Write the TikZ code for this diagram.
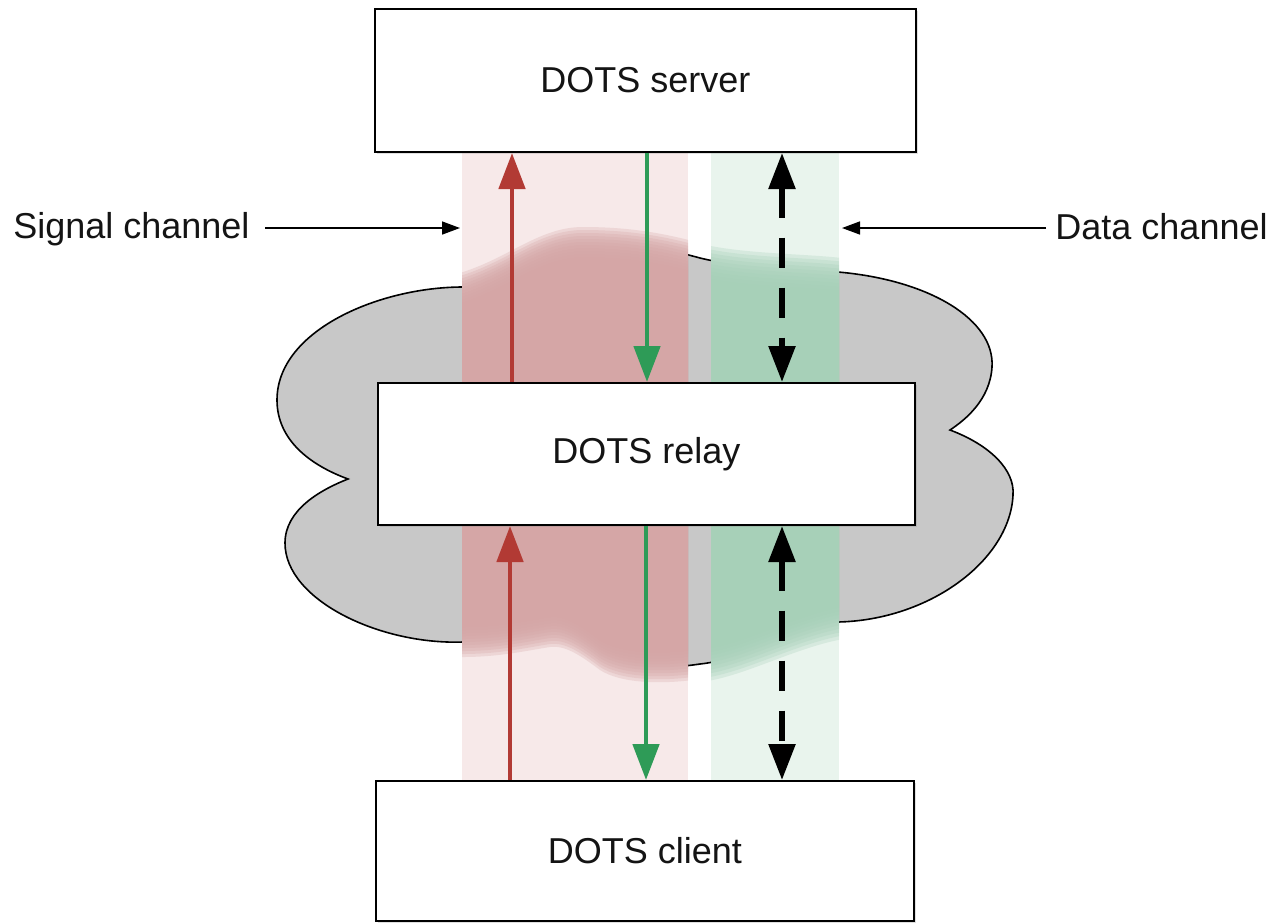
\documentclass[tikz,border=0pt]{standalone}
\usepackage{fontspec}
\setmainfont{Liberation Sans}
\usetikzlibrary{arrows.meta,shadows}
\definecolor{cloudgray}{RGB}{200,200,200}
\definecolor{bandredlight}{RGB}{247,233,233}
\definecolor{bandreddark}{RGB}{213,166,166}
\definecolor{bandgreenlight}{RGB}{233,244,237}
\definecolor{bandgreendark}{RGB}{166,208,184}
\definecolor{arrred}{RGB}{178,58,52}
\definecolor{arrgreen}{RGB}{46,155,87}
\definecolor{txt}{RGB}{20,20,20}
\newcommand\cloudpth{(463,287)
  .. controls (510,272) and (540,242) .. (583,242)
  .. controls (625,242) and (660,247) .. (700,258)
  .. controls (740,268) and (800,268) .. (838,272)
  .. controls (930,280) and (995,320) .. (992,367)
  .. controls (990,400) and (965,420) .. (950,430)
  .. controls (990,445) and (1015,470) .. (1013,495)
  .. controls (1010,560) and (930,620) .. (838,622)
  .. controls (790,632) and (740,660) .. (700,664)
  .. controls (660,670) and (620,668) .. (600,655)
  .. controls (580,640) and (565,630) .. (550,632)
  .. controls (530,635) and (500,642) .. (463,642)
  .. controls (380,645) and (285,600) .. (285,543)
  .. controls (285,510) and (320,490) .. (348,479)
  .. controls (310,465) and (277,440) .. (277,400)
  .. controls (277,330) and (380,287) .. (463,287) -- cycle}
\begin{document}
\begin{tikzpicture}[x=0.5pt,y=-0.5pt,
  every node/.style={font=\fontsize{18}{21.6}\selectfont, text=txt},
  cloudshape/.style={fill=cloudgray, draw=black, line width=0.8pt},
  dotsbox/.style={draw=black, fill=white, line width=1pt, inner sep=0pt,
    drop shadow={shadow xshift=0.8pt, shadow yshift=-0.8pt, opacity=0.25}},
  bigtip/.style={-{Triangle[length=18pt,width=13pt]}},
  bothtips/.style={{Triangle[length=18pt,width=13pt]}-{Triangle[length=18pt,width=13pt]}},
  sigarrow/.style={line width=2.4pt, color=arrred, bigtip},
  grnarrow/.style={line width=2.4pt, color=arrgreen, bigtip},
  dataarrow/.style={line width=2.8pt, color=black, bothtips, dash pattern=on 15pt off 10pt},
  labarrow/.style={line width=0.75pt, -{Triangle[length=9pt,width=6.5pt]}}
]
\useasboundingbox (0,0) rectangle (1278,922);
% cloud
\path[cloudshape] \cloudpth;
% channel bands
\fill[bandredlight] (462,152) rectangle (688,781);
\fill[bandgreenlight] (711,152) rectangle (839,781);
\begin{scope}
  \clip (462,152) rectangle (688,781);
  \foreach \d in {-15,-12,...,15}{
    \fill[bandreddark, fill opacity=0.28, yshift=\d*0.5pt] \cloudpth;
  }
\end{scope}
\begin{scope}
  \clip (711,152) rectangle (839,781);
  \foreach \d in {-18,-14.4,...,18}{
    \fill[bandgreendark, fill opacity=0.28, yshift=\d*0.5pt] \cloudpth;
  }
\end{scope}
% boxes
\node[dotsbox, minimum width=270.5pt, minimum height=71.5pt] (server) at (645.5,80.5) {DOTS server};
\node[dotsbox, minimum width=268.5pt, minimum height=71pt] (relay) at (646.5,454) {DOTS relay};
\node[dotsbox, minimum width=269pt, minimum height=70pt] (client) at (645,851) {DOTS client};
% channel arrows
\draw[sigarrow] (relay.north -| 512,0) -- (server.south -| 512,0);
\draw[sigarrow] (client.north -| 510,0) -- (relay.south -| 510,0);
\draw[grnarrow] (server.south -| 647,0) -- (relay.north -| 647,0);
\draw[grnarrow] (relay.south -| 646,0) -- (client.north -| 646,0);
\draw[dataarrow] (server.south -| 782,0) -- (relay.north -| 782,0);
\draw[dataarrow] (relay.south -| 782,0) -- (client.north -| 782,0);
% labels
\node[anchor=base west, inner sep=0pt] (siglabel) at (13,238) {Signal channel};
\node[anchor=base east, inner sep=0pt] (datalabel) at (1268,239) {Data channel};
\coordinate (sigtail) at (265,228);
\coordinate (sigtip) at (460,228);
\coordinate (datatail) at (1046,228);
\coordinate (datatip) at (842,228);
\draw[labarrow] (sigtail) -- (sigtip);
\draw[labarrow] (datatail) -- (datatip);
\end{tikzpicture}
\end{document}
